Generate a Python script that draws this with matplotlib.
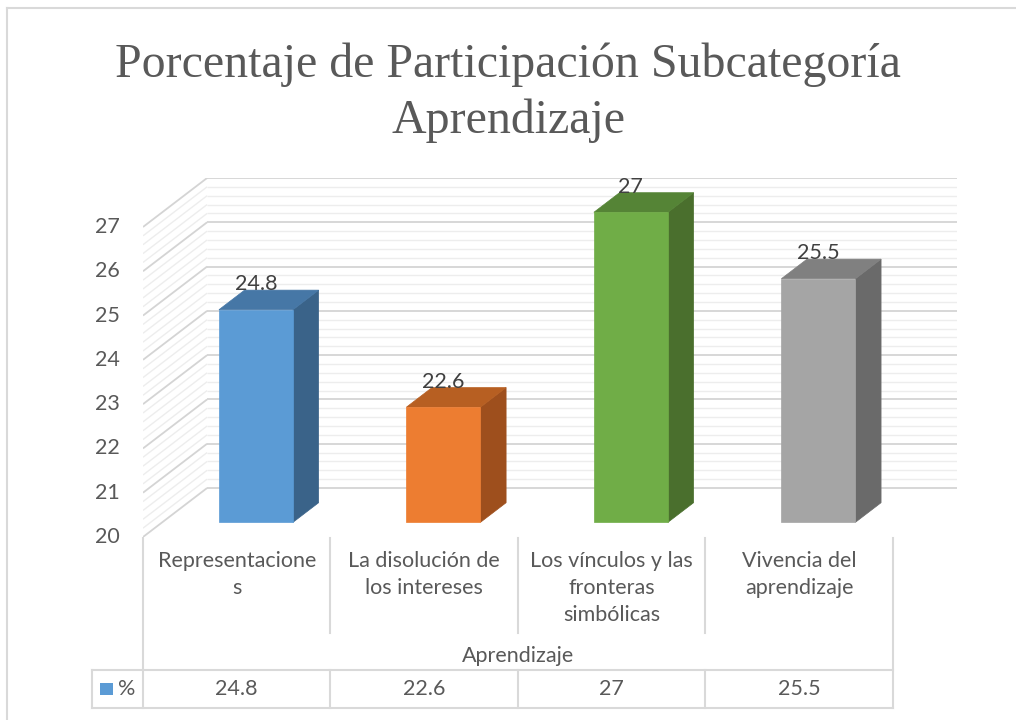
import matplotlib
matplotlib.use("Agg")
import matplotlib.pyplot as plt
from matplotlib.patches import Polygon, Rectangle
from matplotlib.lines import Line2D
import matplotlib.transforms as mtransforms
import numpy as np

# ---- data ----
title = "Porcentaje de Participación Subcategoría\nAprendizaje"
categories = ["Representacione\ns", "La disolución de\nlos intereses",
              "Los vínculos y las\nfronteras\nsimbólicas", "Vivencia del\naprendizaje"]
values = [24.8, 22.6, 27, 25.5]
value_labels = ["24.8", "22.6", "27", "25.5"]
group_label = "Aprendizaje"
series_name = "%"
yticks = [20, 21, 22, 23, 24, 25, 26, 27]

front_colors = ["#5B9BD5", "#ED7D31", "#70AD47", "#A5A5A5"]
side_colors = ["#3A6389", "#9E4F1D", "#4A6F2D", "#6A6A6A"]
top_colors = ["#4677A6", "#B75F22", "#558436", "#808080"]

W, H = 1016, 720
fig = plt.figure(figsize=(W / 100, H / 100), dpi=100)
fig.patch.set_facecolor("white")

TXT = "#595959"
SANS = ["Lato", "DejaVu Sans"]
FS = 15.5

# depth offsets (in data units) for the oblique projection
DX = 64 / 187.25
DY = 49 / 44.3
ymin, ymax = yticks[0], yticks[-1]
n = len(categories)

# axes placement (pixels -> figure fraction)
left_px, right_px = 143, 957
bottom_px, top_px = 537, 178
ax = fig.add_axes([left_px / W, 1 - bottom_px / H,
                   (right_px - left_px) / W, (bottom_px - top_px) / H])
ax.set_xlim(-0.5, n - 0.5 + DX)
ax.set_ylim(ymin, ymax + DY)
ax.axis("off")


def P(x, v, d):
    return (x + d * DX, v + d * DY)


# ---- walls: gridlines ----
minor = np.round(np.arange(ymin, ymax + 1e-9, 0.2), 2)
for v in minor:
    major = abs(v - round(v)) < 1e-6
    col = "#D4D4D4" if major else "#EDEDED"
    lw = 1.3 if major else 1.0
    z = 1 if major else 0.5
    x0, y0 = P(-0.5, v, 0)
    x1, y1 = P(-0.5, v, 1)
    ax.plot([x0, x1], [y0, y1], color=col, lw=lw, zorder=z, solid_capstyle="butt")
    x2, y2 = P(n - 0.5, v, 1)
    ax.plot([x1, x2], [y1, y2], color=col, lw=lw, zorder=z, solid_capstyle="butt")

# ---- y tick labels ----
for t in yticks:
    ax.annotate(str(t), xy=(-0.5, t), xytext=(-16.5, 0), textcoords="offset points",
                ha="right", va="center", fontsize=FS, color=TXT, family=SANS)

# ---- bars ----
bw = 0.395
d0, d1 = 0.30, 0.70
for i, v in enumerate(values):
    xl, xr = i - bw / 2, i + bw / 2
    front = [P(xl, ymin, d0), P(xr, ymin, d0), P(xr, v, d0), P(xl, v, d0)]
    side = [P(xr, ymin, d0), P(xr, ymin, d1), P(xr, v, d1), P(xr, v, d0)]
    top = [P(xl, v, d0), P(xr, v, d0), P(xr, v, d1), P(xl, v, d1)]
    ax.add_patch(Polygon(side, closed=True, facecolor=side_colors[i],
                         edgecolor=side_colors[i], lw=0.5, zorder=3))
    ax.add_patch(Polygon(top, closed=True, facecolor=top_colors[i],
                         edgecolor=top_colors[i], lw=0.5, zorder=3))
    ax.add_patch(Polygon(front, closed=True, facecolor=front_colors[i],
                         edgecolor=front_colors[i], lw=0.5, zorder=4))
    lx, _ = P(i, v, d0)
    _, ly = P(i, v, d1)
    ax.annotate(value_labels[i], xy=(lx, ly), xytext=(0, -3), textcoords="offset points",
                ha="center", va="bottom", fontsize=FS, color="#404040",
                family=SANS, zorder=6)

# ---- title ----
fig.text(0.5, 1 - 93 / H, title, ha="center", va="center", fontsize=34.5,
         color=TXT, family=["Liberation Serif", "DejaVu Serif"], linespacing=1.32)

# ---- data table (x in data coords, y in figure pixels) ----
tr = mtransforms.blended_transform_factory(ax.transData, fig.transFigure)


def fy(py):
    return 1 - py / H


LC = "#D9D9D9"
bounds = [i - 0.5 for i in range(n + 1)]
row1_top, row1_bot = 538, 633
row2_top, row2_bot = 670, 708


def vline(x, ya, yb):
    fig.add_artist(Line2D([x, x], [fy(ya), fy(yb)], transform=tr, color=LC, lw=1.5))


vline(bounds[0], row1_top, row2_bot)
vline(bounds[-1], row1_top, row2_bot)
for b in bounds[1:-1]:
    vline(b, row1_top, row1_bot)
    vline(b, row2_top, row2_bot)

leg_left_px = 92
table_right = ax.transData.transform((bounds[-1], 0))[0] / fig.dpi / fig.get_figwidth()
fig.add_artist(Line2D([leg_left_px / W, leg_left_px / W], [fy(row2_top), fy(row2_bot)],
                      transform=fig.transFigure, color=LC, lw=1.5))
for yy in (row2_top, row2_bot):
    fig.add_artist(Line2D([leg_left_px / W, table_right], [fy(yy), fy(yy)],
                          transform=fig.transFigure, color=LC, lw=1.5))

for i, c in enumerate(categories):
    fig.text(i, fy(551), c, transform=tr, ha="center", va="top", fontsize=FS,
             color=TXT, family=SANS, linespacing=1.45)
    fig.text(i, fy(689), value_labels[i], transform=tr, ha="center", va="center",
             fontsize=FS, color=TXT, family=SANS)

fig.text((bounds[0] + bounds[-1]) / 2, fy(656), group_label, transform=tr,
         ha="center", va="center", fontsize=FS, color=TXT, family=SANS)

# legend key
fig.add_artist(Rectangle((100 / W, fy(695)), 13 / W, 12 / H, transform=fig.transFigure,
                         facecolor=front_colors[0], edgecolor="none"))
fig.text(118 / W, fy(689), series_name, ha="left", va="center", fontsize=FS,
         color=TXT, family=SANS)

# chart border
fig.add_artist(Line2D([7 / W, 1.0], [fy(8), fy(8)], transform=fig.transFigure,
                      color=LC, lw=1.5))
fig.add_artist(Line2D([7 / W, 7 / W], [fy(8), 0.0], transform=fig.transFigure,
                      color=LC, lw=1.5))

fig.savefig("out.png", dpi=100, facecolor="white")
